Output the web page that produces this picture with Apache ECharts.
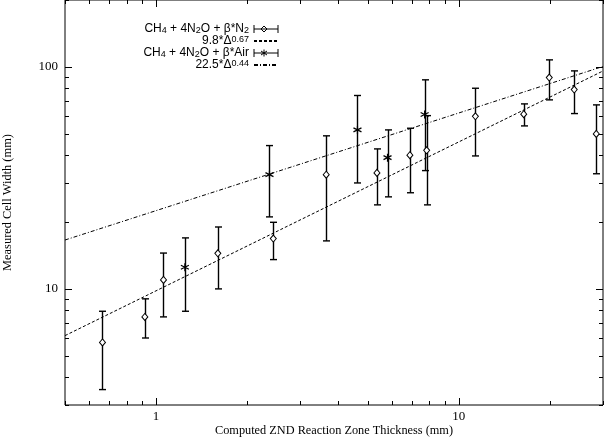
<!DOCTYPE html>
<html><head><meta charset="utf-8">
<script src="https://cdn.jsdelivr.net/npm/echarts@6/dist/echarts.min.js"></script>
<style>html,body{margin:0;padding:0;background:#fff}#c{width:604px;height:438px}</style>
</head><body><div id="c"></div>
<script>
// ---- data ----
const n2X  = [0.665, 0.918, 1.058, 1.60, 2.44, 3.65, 5.37, 6.90, 7.84, 11.36, 16.41, 19.93, 24.1, 28.5];
const n2Y  = [5.74, 7.48, 10.98, 14.47, 16.85, 32.7, 33.3, 40.0, 42.1, 59.9, 61.2, 89.5, 79.0, 49.9];
const n2Lo = [3.52, 6.01, 7.48, 10.0, 13.55, 16.45, 23.9, 27.1, 23.9, 39.7, 54.2, 71.0, 61.6, 33.0];
const n2Hi = [7.93, 9.02, 14.5, 19.0, 19.95, 48.9, 42.7, 52.9, 60.3, 80.1, 68.1, 107.5, 95.9, 67.4];

const airX  = [1.245, 2.37, 4.63, 5.82, 7.72];
const airY  = [12.51, 32.7, 52.0, 39.0, 61.0];
const airLo = [7.93, 21.1, 30.0, 25.97, 34.1];
const airHi = [16.97, 44.2, 74.3, 52.0, 87.4];

const fitX    = [0.5, 30];
const fitN2Y  = [6.16, 95.8];
const fitAirY = [16.6, 100.4];

const seriesNames = ['n2', 'fitN2', 'air', 'fitAir'];
const legendTexts = [
  '{n|CH}{sub|4}{n| + 4N}{sub|2}{n|O + β*N}{sub|2}',
  '{n|9.8*Δ}{sup|0.67}',
  '{n|CH}{sub|4}{n| + 4N}{sub|2}{n|O + β*Air}',
  '{n|22.5*Δ}{sup|0.44}'
];

const xMin = 0.5, xMax = 30, yMin = 3, yMax = 200;
const xLabelValues = [1, 10];
const yLabelValues = [10, 100];
const xMajorTicks = [1, 10];
const xMinorTicks = [0.5, 0.6, 0.7, 0.8, 0.9, 2, 3, 4, 5, 6, 7, 8, 9, 20, 30];
const yMajorTicks = [10, 100];
const yMinorTicks = [3, 4, 5, 6, 7, 8, 9, 20, 30, 40, 50, 60, 70, 80, 90, 200];
const xAxisTitle = 'Computed ZND Reaction Zone Thickness (mm)';
const yAxisTitle = 'Measured Cell Width (mm)';

// ---- build ----
const FONT = 'Liberation Serif';
const LFONT = 'Liberation Sans';
const zip = (a, b) => a.map((v, i) => [v, b[i]]);
const zip3 = (a, b, c) => a.map((v, i) => [v, b[i], c[i]]);
const isIn = (v, arr) => arr.some(t => Math.abs(Math.log10(v) - Math.log10(t)) < 1e-6);

const tickData = [];
xMajorTicks.forEach(v => tickData.push([v, 10, 0, 1]));
xMinorTicks.forEach(v => tickData.push([v, 10, 0, 0]));
yMajorTicks.forEach(v => tickData.push([1, v, 1, 1]));
yMinorTicks.forEach(v => tickData.push([1, v, 1, 0]));

function tickRender(params, api) {
  const cs = params.coordSys;
  const kind = api.value(2), major = api.value(3);
  const len = major ? 7 : 4;
  const st = {stroke: '#000', lineWidth: 1};
  if (kind === 0) {
    const px = Math.round(api.coord([api.value(0), api.value(1)])[0]) + 0.5;
    const b = cs.y + cs.height, t = cs.y;
    return {type: 'group', children: [
      {type: 'line', shape: {x1: px, y1: b, x2: px, y2: b - len}, style: st},
      {type: 'line', shape: {x1: px, y1: t, x2: px, y2: t + len}, style: st}
    ]};
  } else {
    const py = Math.round(api.coord([api.value(0), api.value(1)])[1]) + 0.5;
    const l = cs.x, r = cs.x + cs.width;
    return {type: 'group', children: [
      {type: 'line', shape: {x1: l, y1: py, x2: l + len, y2: py}, style: st},
      {type: 'line', shape: {x1: r, y1: py, x2: r - len, y2: py}, style: st}
    ]};
  }
}

function errRender(params, api) {
  const x = api.value(0);
  const p1 = api.coord([x, api.value(1)]);
  const p2 = api.coord([x, api.value(2)]);
  const px = Math.round(p1[0]) + 0.5;
  const st = {stroke: '#000', lineWidth: 1.4};
  const cw = 3.5;
  return {type: 'group', children: [
    {type: 'line', shape: {x1: px, y1: p1[1], x2: px, y2: p2[1]}, style: st},
    {type: 'line', shape: {x1: px - cw, y1: p1[1], x2: px + cw, y2: p1[1]}, style: st},
    {type: 'line', shape: {x1: px - cw, y1: p2[1], x2: px + cw, y2: p2[1]}, style: st}
  ]};
}

const starPath = 'path://M0,-4L0,4M-3.5,-2L3.5,2M-3.5,2L3.5,-2';
const legendIconN2 = 'path://M0,0L0,8M0,4L24,4M24,0L24,8M7,4L10,1L13,4L10,7Z';
const legendIconAir = 'path://M0,0L0,8M0,4L24,4M24,0L24,8M10,0.5L10,7.5M7,2L13,6M7,6L13,2';

const legendMap = {};
seriesNames.forEach((n, i) => legendMap[n] = legendTexts[i]);
const hidden = {color: 'rgba(0,0,0,0)', borderColor: 'rgba(0,0,0,0)', borderWidth: 0};

const option = {
  animation: false,
  backgroundColor: '#fff',
  textStyle: {fontFamily: FONT, color: '#000'},
  grid: {left: 65, right: 1, top: 0, bottom: 33, outerBoundsMode: 'none', containLabel: false,
         show: true, borderColor: '#000', borderWidth: 1, backgroundColor: 'transparent'},
  legend: {
    orient: 'vertical', align: 'right', right: 320, top: 18,
    itemWidth: 24, itemHeight: 8, itemGap: 0, selectedMode: false,
    formatter: name => legendMap[name],
    textStyle: {
      fontFamily: LFONT, fontSize: 12, color: '#000', lineHeight: 12,
      rich: {
        n:   {fontFamily: LFONT, fontSize: 12, lineHeight: 12, verticalAlign: 'middle', color: '#000'},
        sub: {fontFamily: LFONT, fontSize: 9, lineHeight: 3, verticalAlign: 'bottom', color: '#000'},
        sup: {fontFamily: LFONT, fontSize: 9, lineHeight: 2, verticalAlign: 'top', color: '#000'}
      }
    },
    data: [
      {name: seriesNames[0], icon: legendIconN2, itemStyle: {color: '#fff', borderColor: '#000', borderWidth: 1}},
      {name: seriesNames[1], itemStyle: hidden},
      {name: seriesNames[2], icon: legendIconAir, itemStyle: {color: '#fff', borderColor: '#000', borderWidth: 1}},
      {name: seriesNames[3], itemStyle: hidden}
    ]
  },
  xAxis: {
    type: 'log', logBase: 10, min: xMin, max: xMax,
    name: xAxisTitle, nameLocation: 'middle', nameGap: 20, nameMoveOverlap: false,
    nameTextStyle: {fontFamily: FONT, fontSize: 12.3, color: '#000', verticalAlign: 'top'},
    axisLine: {show: false}, axisTick: {show: false}, splitLine: {show: false},
    axisLabel: {
      margin: 5, fontFamily: FONT, fontSize: 13, color: '#000',
      formatter: v => isIn(v, xLabelValues) ? String(Math.round(v)) : ''
    }
  },
  yAxis: {
    type: 'log', logBase: 10, min: yMin, max: yMax,
    name: yAxisTitle, nameLocation: 'middle', nameGap: 51, nameMoveOverlap: false,
    nameTextStyle: {fontFamily: FONT, fontSize: 12.4, color: '#000'},
    axisLine: {show: false}, axisTick: {show: false}, splitLine: {show: false},
    axisLabel: {
      margin: 7, fontFamily: FONT, fontSize: 13, color: '#000',
      formatter: v => isIn(v, yLabelValues) ? String(Math.round(v)) : ''
    }
  },
  series: [
    {type: 'custom', name: 'ticks', silent: true, clip: false, renderItem: tickRender, data: tickData, z: 1},
    {type: 'line', name: seriesNames[1], data: zip(fitX, fitN2Y), symbol: 'none', showSymbol: false, silent: true,
     lineStyle: {color: '#000', width: 1, type: [3, 2]}, itemStyle: {color: '#000'}, z: 2},
    {type: 'line', name: seriesNames[3], data: zip(fitX, fitAirY), symbol: 'none', showSymbol: false, silent: true,
     lineStyle: {color: '#000', width: 1, type: [4, 2, 1, 2]}, itemStyle: {color: '#000'}, z: 2},
    {type: 'custom', name: seriesNames[0], silent: true, renderItem: errRender, data: zip3(n2X, n2Lo, n2Hi), z: 3},
    {type: 'custom', name: seriesNames[2], silent: true, renderItem: errRender, data: zip3(airX, airLo, airHi), z: 3},
    {type: 'scatter', name: seriesNames[0], data: zip(n2X, n2Y), symbol: 'diamond', symbolSize: [6, 7], silent: true,
     itemStyle: {color: '#fff', borderColor: '#000', borderWidth: 1, opacity: 1}, z: 4},
    {type: 'scatter', name: seriesNames[2], data: zip(airX, airY), symbol: starPath, symbolSize: [8, 8], silent: true,
     itemStyle: {color: 'rgba(0,0,0,0)', borderColor: '#000', borderWidth: 1.2, opacity: 1}, z: 4}
  ]
};
const chart = echarts.init(document.getElementById('c'), null, {renderer: 'canvas'});
chart.setOption(option);
</script></body></html>
